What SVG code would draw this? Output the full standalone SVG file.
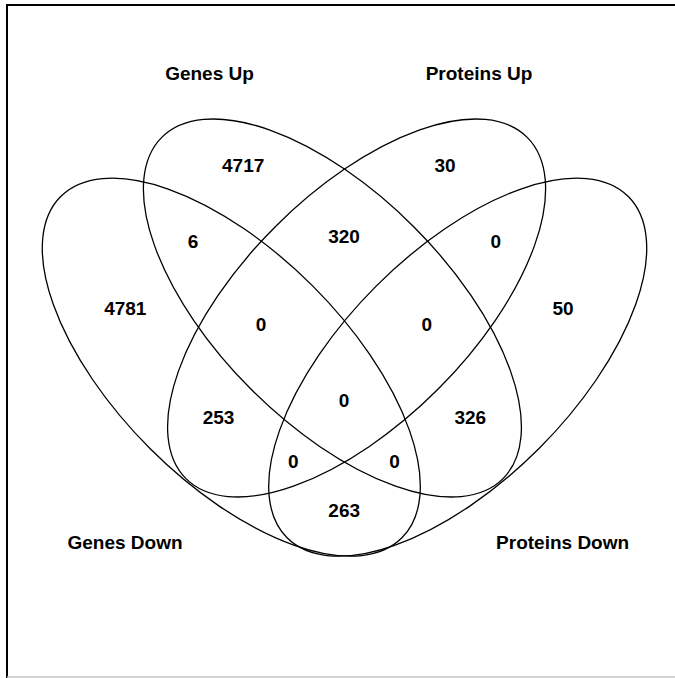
<svg xmlns="http://www.w3.org/2000/svg" width="675" height="678" viewBox="0 0 675 678">
<style>
.set{fill:none;stroke:#000;stroke-width:1.3}
.lbl{font-family:"Liberation Sans",Arial,Helvetica,sans-serif;font-weight:bold;font-size:19px;fill:#000;text-anchor:middle}
</style>
<rect x="0" y="0" width="675" height="678" fill="#fff"/>
<path d="M7,678 V5 H675" fill="none" stroke="#000" stroke-width="2"/>
<line x1="7" y1="677" x2="675" y2="677" stroke="#c4c4c4" stroke-width="1.5"/>
<g id="connectors"></g>
<g id="genes-down">
<ellipse class="set" cx="231.3" cy="367.2" rx="241.3" ry="115" transform="rotate(45 231.3 367.2)"/>
<text class="lbl" x="125" y="548.5">Genes Down</text>
</g>
<g id="genes-up">
<ellipse class="set" cx="332.4" cy="308" rx="241.3" ry="115" transform="rotate(45 332.4 308)"/>
<text class="lbl" x="209.5" y="79.5">Genes Up</text>
</g>
<g id="proteins-up">
<ellipse class="set" cx="356.6" cy="308" rx="241.3" ry="115" transform="rotate(-45 356.6 308)"/>
<text class="lbl" x="479" y="79.5">Proteins Up</text>
</g>
<g id="proteins-down">
<ellipse class="set" cx="457.7" cy="367.2" rx="241.3" ry="115" transform="rotate(-45 457.7 367.2)"/>
<text class="lbl" x="562.6" y="548.5">Proteins Down</text>
</g>
<g id="counts">
<text class="lbl" x="243.2" y="172">4717</text>
<text class="lbl" x="445.1" y="172">30</text>
<text class="lbl" x="193" y="247.5">6</text>
<text class="lbl" x="344" y="243.2">320</text>
<text class="lbl" x="495.7" y="247.5">0</text>
<text class="lbl" x="125.3" y="314.7">4781</text>
<text class="lbl" x="563" y="314.7">50</text>
<text class="lbl" x="261" y="331">0</text>
<text class="lbl" x="426.8" y="331">0</text>
<text class="lbl" x="344" y="407.2">0</text>
<text class="lbl" x="218.5" y="424">253</text>
<text class="lbl" x="470.3" y="424">326</text>
<text class="lbl" x="293.4" y="468">0</text>
<text class="lbl" x="394.5" y="468">0</text>
<text class="lbl" x="344.2" y="517.3">263</text>
</g>
</svg>
